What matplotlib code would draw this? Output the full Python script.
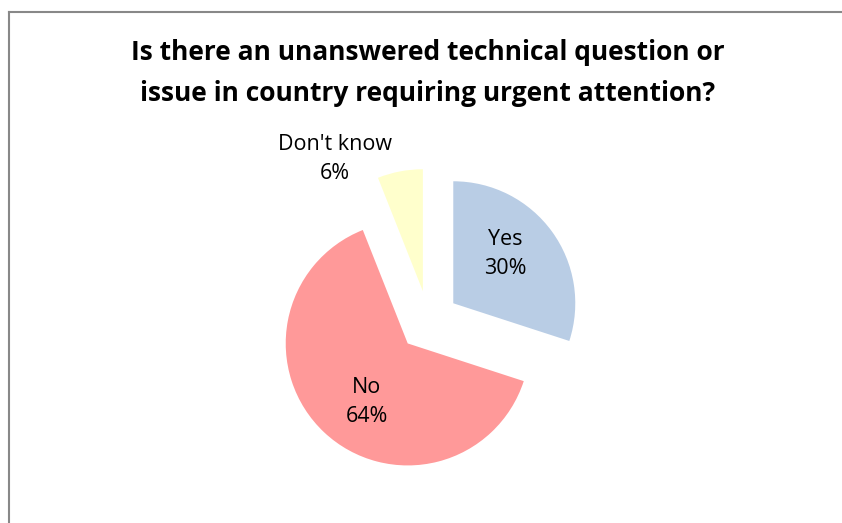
import matplotlib.pyplot as plt
from matplotlib.lines import Line2D

labels = ["Yes", "No", "Don't know"]
shares = [30, 64, 6]
colors = ["#B9CDE5", "#FF9999", "#FFFFCC"]

TITLE = "Is there an unanswered technical question or\nissue in country requiring urgent attention?"

W, H = 842, 523

plt.rcParams["font.family"] = ["Open Sans", "DejaVu Sans"]

fig = plt.figure(figsize=(W / 100, H / 100), dpi=100)
ax = fig.add_axes([0, 0, 1, 1])

wedges, _ = ax.pie(
    shares,
    colors=colors,
    startangle=90,
    counterclock=False,
    radius=122,
    center=(428.6, H - 321.2),
    explode=[30.5] * len(shares),  # absolute offset in data units
    wedgeprops=dict(linewidth=0),
)

ax.set_xlim(0, W)
ax.set_ylim(0, H)
ax.set_aspect("auto")
ax.axis("off")

# data labels, placed roughly where the original chart puts them
label_pos = [(505, 254), (367, 402), (335, 159)]
for name, val, (x, y) in zip(labels, shares, label_pos):
    ax.text(x, H - y, f"{name}\n{val}%", ha="center", va="center",
            fontsize=15.5, linespacing=1.55)

ax.text(W / 2 + 7, H - 73, TITLE, ha="center", va="center", fontsize=19,
        fontweight="bold", linespacing=1.62)

# chart border (only left and top visible in the crop)
fig.add_artist(Line2D([8.7 / W, 8.7 / W], [0, 1 - 11.5 / H], transform=fig.transFigure,
                      color="#888888", lw=1.5))
fig.add_artist(Line2D([8.7 / W, 1], [1 - 11.5 / H, 1 - 11.5 / H], transform=fig.transFigure,
                      color="#888888", lw=1.5))

fig.savefig("out.png", dpi=100)
